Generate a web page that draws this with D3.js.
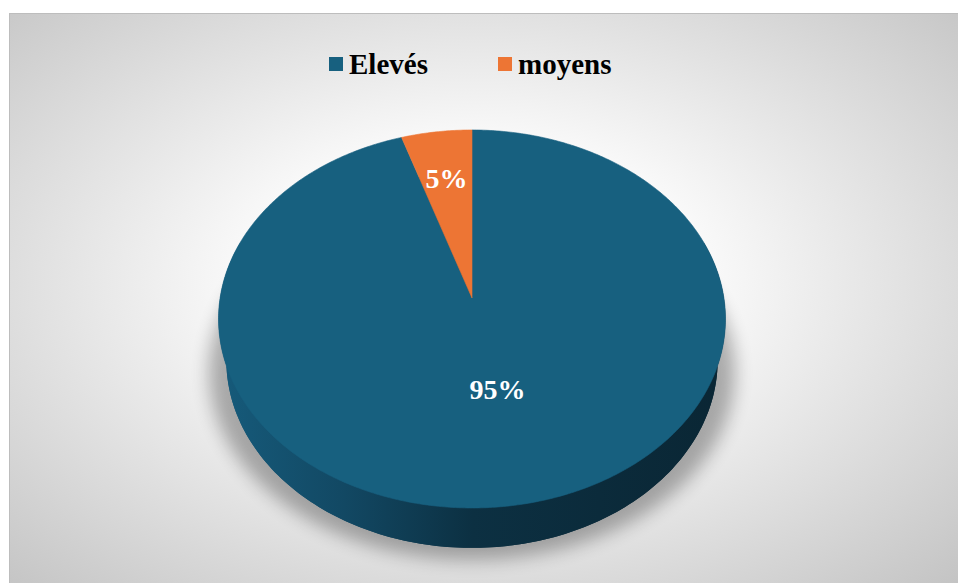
<!DOCTYPE html>
<html>
<head>
<meta charset="utf-8">
<script src="https://cdn.jsdelivr.net/npm/d3@7"></script>
<style>
  html, body { margin: 0; padding: 0; background: #ffffff; }
  svg { display: block; }
</style>
</head>
<body>
<svg id="chart" width="958" height="583"></svg>
<script>
// Data
const categories = ["Elevés", "moyens"];
const values = [95, 5];
const valueLabels = ["95%", "5%"];
const colors = ["#17607f", "#ed7534"];

const svg = d3.select("#chart");
const defs = svg.append("defs");

// Chart area background: soft radial gradient
const bg = defs.append("radialGradient").attr("id", "bgGrad")
  .attr("cx", 0.48).attr("cy", 0.45).attr("r", 0.72);
bg.append("stop").attr("offset", 0).attr("stop-color", "#ffffff");
bg.append("stop").attr("offset", 0.3).attr("stop-color", "#fcfcfc");
bg.append("stop").attr("offset", 1).attr("stop-color", "#c2c2c2");

svg.append("rect")
  .attr("x", 9.5).attr("y", 13.5)
  .attr("width", 970).attr("height", 600)
  .attr("fill", "url(#bgGrad)")
  .attr("stroke", "#bdbdbd").attr("stroke-width", 1);

// Perspective projection of a unit pie lying on a horizontal plane
const cx = 472, cy = 298;          // screen position of the pie centre
const focal = 1524, dist = 6.05;   // camera focal length and distance
const sinP = 0.741, cosP = Math.sqrt(1 - sinP * sinP); // view elevation
const thick = 0.256;               // pie thickness (world units)

function project(X, Z, Y) {
  const yc = Z * sinP - Y * cosP;
  const d = dist - Z * cosP - Y * sinP;
  return [cx + focal * X / d, cy + focal * yc / d];
}
function rim(a, r, Y) {
  return project(r * Math.sin(a), -r * Math.cos(a), Y);
}

const pie = d3.pie().sort(null).value(d => d)(values);
const line = d3.line().curve(d3.curveLinearClosed);

function arcPoints(a0, a1, Y, step) {
  const pts = [];
  const n = Math.max(2, Math.ceil(Math.abs(a1 - a0) / step));
  for (let i = 0; i <= n; i++) pts.push(rim(a0 + (a1 - a0) * i / n, 1, Y));
  return pts;
}

// Soft drop shadow under the pie
const shadowF = defs.append("filter").attr("id", "shadow")
  .attr("x", "-20%").attr("y", "-20%").attr("width", "140%").attr("height", "140%");
shadowF.append("feGaussianBlur").attr("stdDeviation", 9);

const base = arcPoints(0, 2 * Math.PI, -thick, 0.02);
svg.append("path")
  .attr("d", line(base.map(p => [cx + (p[0] - cx) * 1.07, p[1] + 12])))
  .attr("fill", "#000").attr("opacity", 0.3)
  .attr("filter", "url(#shadow)");

// Side wall shading
const sideGrad = defs.append("linearGradient").attr("id", "sideGrad")
  .attr("gradientUnits", "userSpaceOnUse")
  .attr("x1", 218).attr("x2", 727).attr("y1", 0).attr("y2", 0);
sideGrad.append("stop").attr("offset", 0).attr("stop-color", "#165b7b");
sideGrad.append("stop").attr("offset", 0.25).attr("stop-color", "#124863");
sideGrad.append("stop").attr("offset", 0.5).attr("stop-color", "#0c3042");
sideGrad.append("stop").attr("offset", 1).attr("stop-color", "#0a2634");

// Bottom face and front side band
svg.append("path").attr("d", line(base)).attr("fill", "url(#sideGrad)");
const front = arcPoints(Math.PI * 0.4, Math.PI * 1.6, 0, 0.02)
  .concat(arcPoints(Math.PI * 1.6, Math.PI * 0.4, -thick, 0.02));
svg.append("path").attr("d", line(front)).attr("fill", "url(#sideGrad)");

// Top faces of the slices
svg.selectAll("path.slice")
  .data(pie)
  .join("path")
  .attr("class", "slice")
  .attr("d", d => line([project(0, 0, 0)].concat(arcPoints(d.startAngle, d.endAngle, 0, 0.01))))
  .attr("fill", (d, i) => colors[i])
  .attr("stroke", (d, i) => colors[i])
  .attr("stroke-width", 0.6);

// Value labels
const labelRadius = [0.47, 0.7];
const labelShift = [6, 0];
svg.selectAll("text.value")
  .data(pie)
  .join("text")
  .attr("class", "value")
  .attr("x", (d, i) => rim((d.startAngle + d.endAngle) / 2, labelRadius[i], 0)[0] + labelShift[i])
  .attr("y", (d, i) => rim((d.startAngle + d.endAngle) / 2, labelRadius[i], 0)[1])
  .attr("dy", "0.36em")
  .attr("text-anchor", "middle")
  .attr("font-family", "'Liberation Serif', 'Times New Roman', serif")
  .attr("font-weight", "bold")
  .attr("font-size", 28)
  .attr("fill", "#ffffff")
  .text((d, i) => valueLabels[i]);

// Legend
const legendX = [329, 498];
const legend = svg.selectAll("g.legend")
  .data(categories)
  .join("g")
  .attr("class", "legend")
  .attr("transform", (d, i) => `translate(${legendX[i]},57)`);
legend.append("rect")
  .attr("width", 14).attr("height", 14)
  .attr("fill", (d, i) => colors[i]);
legend.append("text")
  .attr("x", 20).attr("y", 17)
  .attr("font-family", "'Liberation Serif', 'Times New Roman', serif")
  .attr("font-weight", "bold")
  .attr("font-size", 29)
  .attr("fill", "#000")
  .text(d => d);
</script>
</body>
</html>
